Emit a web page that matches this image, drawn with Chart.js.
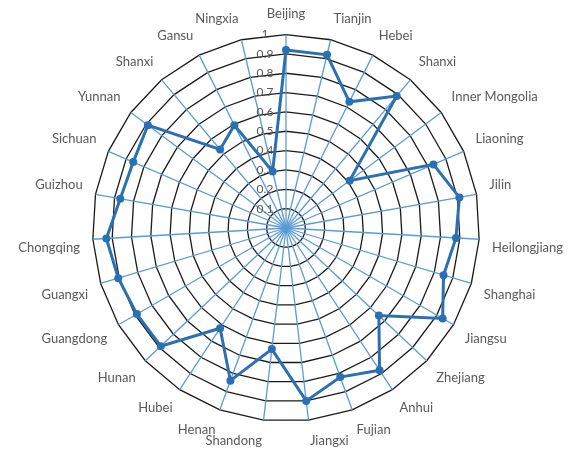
<!DOCTYPE html>
<html><head><meta charset="utf-8">
<script src="https://cdn.jsdelivr.net/npm/chart.js@4"></script>
<style>html,body{margin:0;padding:0;background:#fff}#wrap{width:568px;height:452px;position:relative}</style>
</head><body><div id="wrap"><canvas id="c"></canvas></div>
<script>
const categories = ['Beijing','Tianjin','Hebei','Shanxi','Inner Mongolia','Liaoning','Jilin','Heilongjiang','Shanghai','Jiangsu','Zhejiang','Anhui','Fujian','Jiangxi','Shandong','Henan','Hubei','Hunan','Guangdong','Guangxi','Chongqing','Guizhou','Sichuan','Yunnan','Shanxi','Gansu','Ningxia'];
const values = [0.92,0.92,0.73,0.89,0.41,0.83,0.91,0.88,0.85,0.935,0.66,0.88,0.82,0.90,0.63,0.84,0.62,0.89,0.89,0.905,0.93,0.87,0.86,0.89,0.53,0.595,0.30];
const tickLabels = ['0','0.1','0.2','0.3','0.4','0.5','0.6','0.7','0.8','0.9','1'];

new Chart(document.getElementById('c'), {
  type: 'radar',
  data: {
    labels: categories,
    datasets: [{
      data: values,
      borderColor: '#2b70b3',
      backgroundColor: '#2b70b3',
      borderWidth: 3,
      fill: false,
      pointRadius: 4,
      pointBackgroundColor: '#2b70b3',
      pointBorderColor: '#2b70b3',
      pointBorderWidth: 0,
      tension: 0
    }]
  },
  options: {
    responsive: true,
    maintainAspectRatio: false,
    animation: false,
    plugins: { legend: { display: false }, tooltip: { enabled: false } },
    layout: { padding: { top: 3, bottom: -10, left: 14, right: 0 } },
    scales: {
      r: {
        min: 0, max: 1,
        ticks: {
          stepSize: 0.1,
          showLabelBackdrop: false,
          color: '#595959',
          font: { family: 'Lato', size: 12 },
          callback: (v, i) => tickLabels[i] + '\u2002'.repeat(7)
        },
        grid: { color: '#1a1a1a', lineWidth: 1.3 },
        angleLines: { color: '#5b9bd5', lineWidth: 1.3 },
        pointLabels: { color: '#595959', font: { family: 'Lato', size: 13 }, padding: 5 }
      }
    }
  }
});
</script>
</body></html>
